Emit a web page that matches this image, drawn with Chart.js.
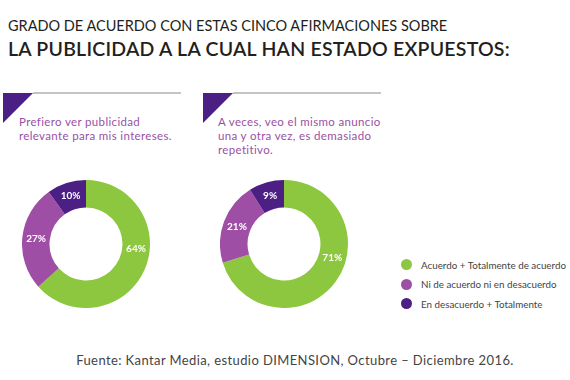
<!DOCTYPE html>
<html>
<head>
<meta charset="utf-8">
<script src="https://cdn.jsdelivr.net/npm/chart.js@4"></script>
<style>
    body { margin: 0; width: 570px; height: 380px; background: #fff; position: relative; overflow: hidden; font-family: 'Lato', sans-serif; }
    .t1 { position: absolute; left: 8px; top: 17px; font-size: 14.5px; color: #231f20; letter-spacing: 0px; white-space: nowrap; }
    .t2 { position: absolute; left: 8px; top: 37px; font-size: 19.5px; color: #231f20; font-weight: 600; letter-spacing: 0.23px; white-space: nowrap; }
    .tri { position: absolute; width: 0; height: 0; border-top: 30px solid #4b2084; border-right: 30px solid transparent; }
    .rule { position: absolute; height: 2px; background: #c4c4c4; }
    .q { position: absolute; font-size: 11.5px; line-height: 14px; color: #9b4fa4; letter-spacing: 0.35px; white-space: nowrap; }
    .chart { position: absolute; width: 128px; height: 128px; }
    .legend { position: absolute; left: 401px; top: 255px; font-size: 9.8px; color: #444; }
    .legend div { height: 19.5px; display: flex; align-items: center; white-space: nowrap; }
    .legend span.dot { display: inline-block; width: 11px; height: 11px; border-radius: 50%; margin-right: 9px; }
    .src { position: absolute; left: 0; width: 590px; top: 352px; text-align: center; font-size: 13px; letter-spacing: 0.4px; color: #444; }
</style>
</head>
<body>
<div class="t1">GRADO DE ACUERDO CON ESTAS CINCO AFIRMACIONES SOBRE</div>
<div class="t2">LA PUBLICIDAD A LA CUAL HAN ESTADO EXPUESTOS:</div>

<div class="tri" style="left:3px; top:93px;"></div>
<div class="rule" style="left:33px; top:92px; width:148px;"></div>
<div class="q" style="left:19px; top:115px;">Prefiero ver publicidad<br>relevante para mis intereses.</div>

<div class="tri" style="left:203px; top:93px;"></div>
<div class="rule" style="left:233px; top:92px; width:148px;"></div>
<div class="q" style="left:218px; top:115px;">A veces, veo el mismo anuncio<br>una y otra vez, es demasiado<br>repetitivo.</div>

<div class="chart" style="left:22px; top:180px;"><canvas id="c1" width="128" height="128"></canvas></div>
<div class="chart" style="left:220px; top:180px;"><canvas id="c2" width="128" height="128"></canvas></div>

<div class="legend" id="legend"></div>
<div class="src">Fuente: Kantar Media, estudio DIMENSION, Octubre – Diciembre 2016.</div>

<script>
const categories = ['Acuerdo + Totalmente de acuerdo', 'Ni de acuerdo ni en desacuerdo', 'En desacuerdo + Totalmente'];
const relevanteValues = [64, 27, 10];
const repetitivoValues = [71, 21, 9];
const colors = ['#8dc63f', '#9e4fa5', '#4b1f84'];

// etiquetas blancas dentro de cada segmento
const labelFraction = [0.42, 0.5, 0.5];
const pctLabels = {
    id: 'pctLabels',
    afterDatasetsDraw(chart) {
        const ctx = chart.ctx;
        const meta = chart.getDatasetMeta(0);
        const data = chart.data.datasets[0].data;
        ctx.save();
        ctx.fillStyle = '#fff';
        ctx.font = 'bold 10px Lato, sans-serif';
        ctx.textAlign = 'center';
        ctx.textBaseline = 'middle';
        meta.data.forEach((arc, i) => {
            const p = arc.getProps(['x', 'y', 'startAngle', 'endAngle', 'innerRadius', 'outerRadius'], true);
            const a = p.startAngle + (p.endAngle - p.startAngle) * labelFraction[i];
            const r = (p.innerRadius + p.outerRadius) / 2;
            ctx.fillText(data[i] + '%', p.x + Math.cos(a) * r, p.y + Math.sin(a) * r);
        });
        ctx.restore();
    }
};

function makeDonut(id, values) {
    new Chart(document.getElementById(id), {
        type: 'doughnut',
        data: {
            labels: categories,
            datasets: [{
                data: values,
                backgroundColor: colors,
                borderWidth: 0
            }]
        },
        options: {
            cutout: '57%',
            responsive: false,
            animation: false,
            layout: { padding: 0 },
            plugins: {
                legend: { display: false },
                tooltip: { enabled: false }
            }
        },
        plugins: [pctLabels]
    });
}

makeDonut('c1', relevanteValues);
makeDonut('c2', repetitivoValues);

const legend = document.getElementById('legend');
categories.forEach((c, i) => {
    const row = document.createElement('div');
    row.innerHTML = `<span class="dot" style="background:${colors[i]}"></span>${c}`;
    legend.appendChild(row);
});
</script>
</body>
</html>
